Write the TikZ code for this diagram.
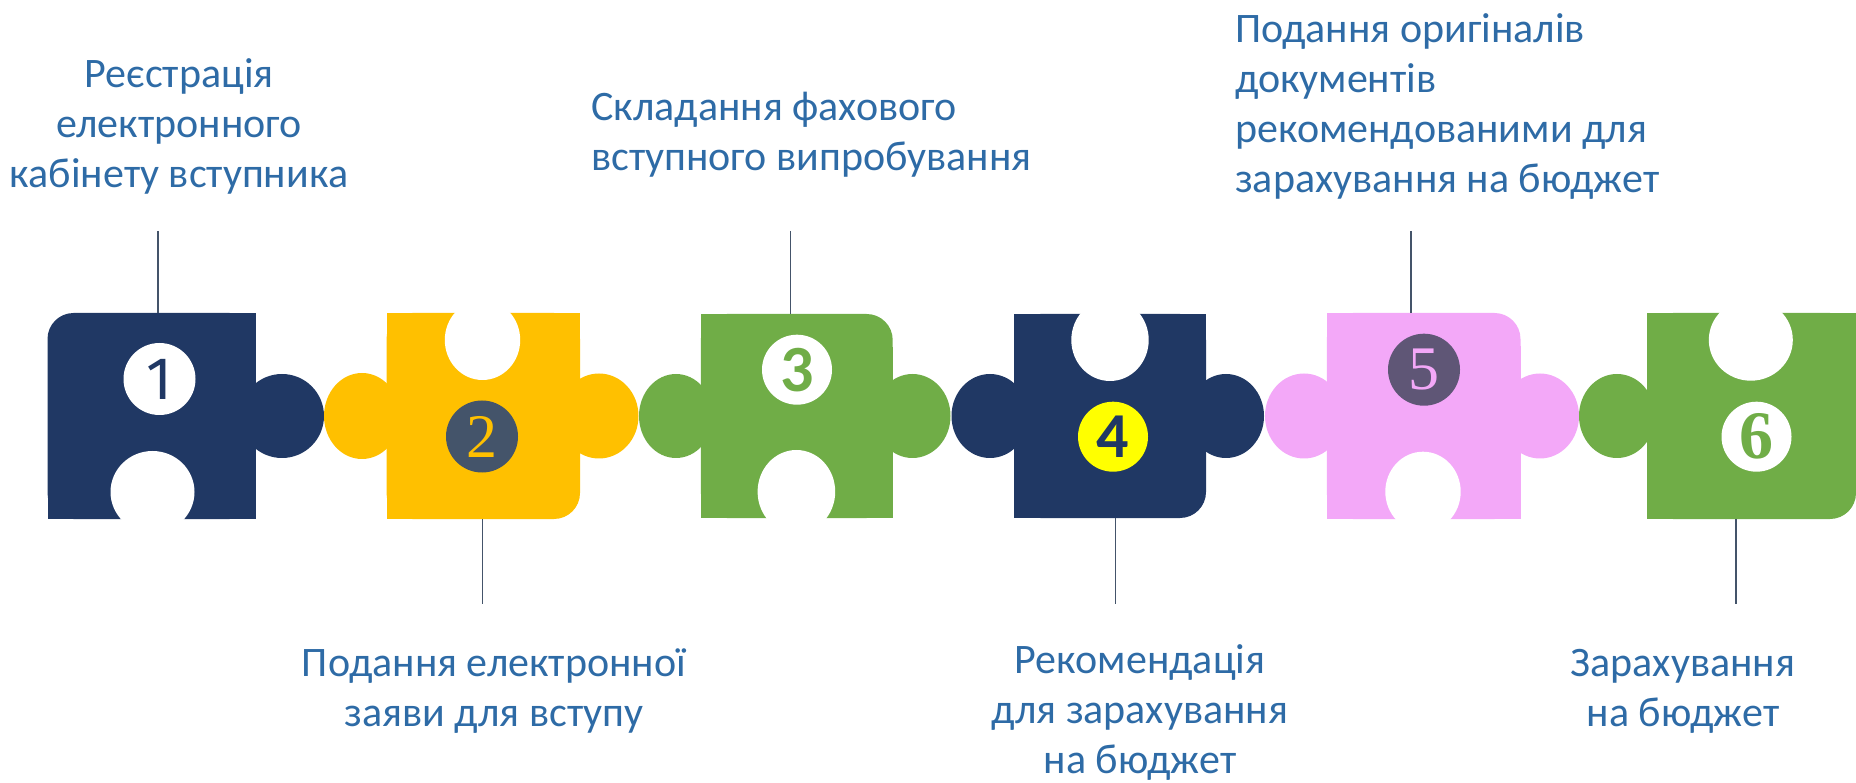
\documentclass[tikz,border=0pt]{standalone}
\usepackage{fontspec}
\setmainfont{Carlito}
\newfontfamily\numsans{Fira Sans}
\newfontfamily\numserif{Liberation Serif}
\definecolor{navy}{HTML}{203864}
\definecolor{pyellow}{HTML}{FFC000}
\definecolor{pgreen}{HTML}{70AD47}
\definecolor{ppink}{HTML}{F3A8F8}
\definecolor{slate}{HTML}{44546A}
\definecolor{plum}{HTML}{5F5676}
\definecolor{lemon}{HTML}{FFFF00}
\definecolor{txtblue}{HTML}{2E6BA6}
\definecolor{connc}{HTML}{44546A}
\tikzset{
  lbl/.style={text=txtblue, font=\fontsize{42}{50}\selectfont, inner sep=0pt},
  conn/.style={draw=connc, line width=1.5pt},
  digit/.style={inner sep=0pt, font=\fontsize{60}{60}\selectfont},
}
\begin{document}
\begin{tikzpicture}[x=1pt,y=-1pt]
\useasboundingbox (0,0) rectangle (1856,783);
% ---------- piece 1 (navy) ----------
\fill[navy,rounded corners=26pt] (47.5,313) rectangle (255.5,519);
\fill[navy] (80,313) rectangle (255.5,519);
\fill[navy] (47.5,346) rectangle (255.5,519);
\fill[navy] (282,416) ellipse [x radius=42pt, y radius=42pt];
% ---------- piece 2 (yellow) ----------
\fill[pyellow,rounded corners=26pt] (386.5,313) rectangle (580,519);
\fill[pyellow] (386.5,313) rectangle (550,519);
\fill[pyellow] (386.5,313) rectangle (580,486);
\fill[pyellow] (362,416) ellipse [x radius=38pt, y radius=43pt];
\fill[pyellow] (599,416) ellipse [x radius=39.5pt, y radius=42.5pt];
% ---------- piece 3 (green) ----------
\fill[pgreen,rounded corners=26pt] (700.8,314) rectangle (892.7,518);
\fill[pgreen] (700.8,314) rectangle (860,518);
\fill[pgreen] (700.8,347) rectangle (892.7,518);
\fill[pgreen] (676,416) ellipse [x radius=37pt, y radius=42pt];
\fill[pgreen] (912.5,416) ellipse [x radius=38pt, y radius=42pt];
% ---------- piece 4 (navy) ----------
\fill[navy,rounded corners=26pt] (1014.4,314) rectangle (1206,518);
\fill[navy] (1014.4,314) rectangle (1173,518);
\fill[navy] (1014.4,314) rectangle (1206,485);
\fill[navy] (990,416) ellipse [x radius=38.5pt, y radius=42pt];
\fill[navy] (1226,416) ellipse [x radius=38pt, y radius=42pt];
% ---------- piece 5 (pink) ----------
\fill[ppink,rounded corners=26pt] (1326.8,313) rectangle (1520.5,519);
\fill[ppink] (1326.8,313) rectangle (1488,519);
\fill[ppink] (1326.8,346) rectangle (1520.5,519);
\fill[ppink] (1304,416) ellipse [x radius=39pt, y radius=42.5pt];
\fill[ppink] (1540,416) ellipse [x radius=39pt, y radius=42.5pt];
% ---------- piece 6 (green) ----------
\fill[pgreen,rounded corners=26pt] (1647,313) rectangle (1856,519);
\fill[pgreen] (1647,313) rectangle (1823,519);
\fill[pgreen] (1647,313) rectangle (1856,486);
\fill[pgreen] (1617,416) ellipse [x radius=38pt, y radius=42pt];
% ---------- notches ----------
\fill[white] (152.5,492) ellipse [x radius=42pt, y radius=41pt];
\fill[white] (482.5,340) ellipse [x radius=37.7pt, y radius=40pt];
\fill[white] (796.4,491.7) ellipse [x radius=38.8pt, y radius=41.7pt];
\fill[white] (1110,340) ellipse [x radius=38.7pt, y radius=41pt];
\fill[white] (1423,491.7) ellipse [x radius=37.7pt, y radius=40pt];
\fill[white] (1750.8,340) ellipse [x radius=42pt, y radius=40.7pt];
% ---------- badges ----------
\fill[white] (159.5,379) circle [radius=36pt];
\fill[slate] (482,436.5) circle [radius=36pt];
\fill[white] (797,369.7) circle [radius=35pt];
\fill[lemon] (1113,436.7) circle [radius=35pt];
\fill[plum] (1424,369.7) circle [radius=36pt];
\fill[white] (1756.5,436.7) circle [radius=35pt];
\node[digit, text=navy, font=\fontsize{60}{60}\numsans] (n1) at (159.5,379) {1};
\node[digit, text=pyellow, font=\fontsize{62}{62}\numserif] (n2) at (482,436.5) {2};
\node[digit, text=pgreen, font=\fontsize{66}{66}\bfseries] (n3) at (797,369.7) {3};
\node[digit, text=navy, font=\fontsize{64}{64}\bfseries] (n4) at (1113,436.7) {4};
\node[digit, text=ppink, font=\fontsize{62}{62}\numserif] (n5) at (1424,369.7) {5};
\node[digit, text=pgreen, font=\fontsize{68}{68}\numserif\bfseries] (n6) at (1756.5,436.7) {6};
% ---------- connectors ----------
\coordinate (c1a) at (157.8,231); \coordinate (c1b) at (157.8,313);
\coordinate (c2a) at (482.4,519);  \coordinate (c2b) at (482.4,604);
\coordinate (c3a) at (790.5,231);  \coordinate (c3b) at (790.5,314);
\coordinate (c4a) at (1115.4,518); \coordinate (c4b) at (1115.4,604);
\coordinate (c5a) at (1411,231);   \coordinate (c5b) at (1411,313);
\coordinate (c6a) at (1735.8,519); \coordinate (c6b) at (1735.8,604);
\draw[conn] (c1a) -- (c1b);
\draw[conn] (c2a) -- (c2b);
\draw[conn] (c3a) -- (c3b);
\draw[conn] (c4a) -- (c4b);
\draw[conn] (c5a) -- (c5b);
\draw[conn] (c6a) -- (c6b);
% ---------- labels (base = baseline of last line) ----------
\node[lbl, align=center, anchor=base] (t1) at (179,188) {Реєстрація\\електронного\\кабінету вступника};
\node[lbl, align=left, anchor=base west] (t3) at (591,171) {Складання фахового\\вступного випробування};
\node[lbl, align=left, anchor=base west] (t5) at (1235,193) {Подання оригіналів\\документів\\рекомендованими для\\зарахування на бюджет};
\node[lbl, align=center, anchor=base] (t2) at (494,726) {Подання електронної\\заяви для вступу};
\node[lbl, align=center, anchor=base] (t4) at (1140,773) {Рекомендація\\для зарахування\\на бюджет};
\node[lbl, align=center, anchor=base] (t6) at (1683,726) {Зарахування\\на бюджет};
\end{tikzpicture}
\end{document}
